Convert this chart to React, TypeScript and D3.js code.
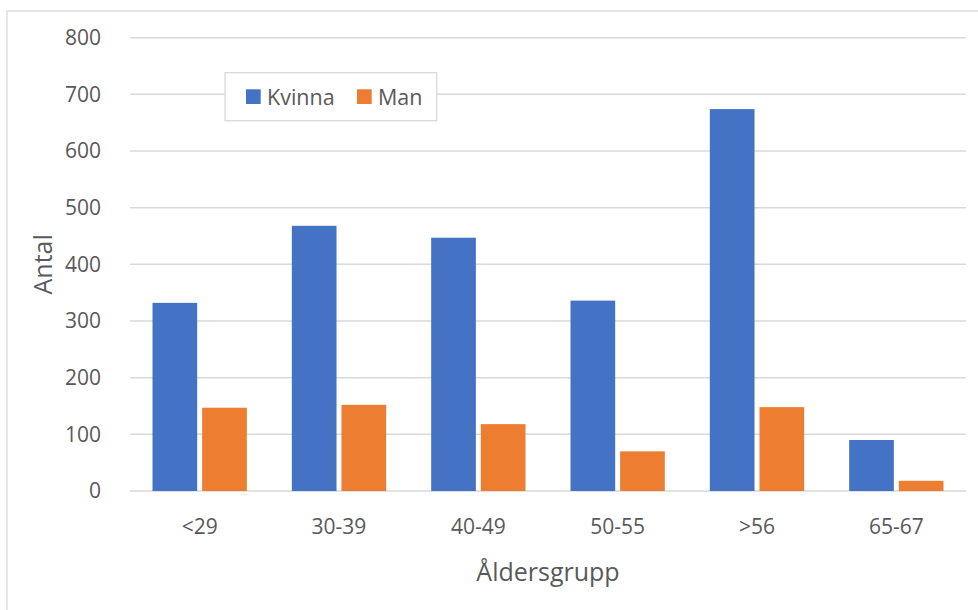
import React from "react";
import * as d3 from "d3";

const categories = ["<29", "30-39", "40-49", "50-55", ">56", "65-67"];
const seriesNames = ["Kvinna", "Man"];
const kvinna = [332, 468, 447, 336, 674, 90];
const man = [147, 152, 118, 70, 148, 18];
const yTicks = [0, 100, 200, 300, 400, 500, 600, 700, 800];
const colors = ["#4472C4", "#ED7D31"];

const W = 978;
const H = 610;
const left = 130;
const right = 966;
const top = 37.7;
const bottom = 491;
const font = "'Open Sans', 'Noto Sans', sans-serif";
const textColor = "#595959";

export default function App() {
  const x0 = d3
    .scaleBand<string>()
    .domain(categories)
    .range([left, right])
    .paddingInner(0.323)
    .paddingOuter(0.1615);
  const x1 = d3
    .scaleBand<string>()
    .domain(seriesNames)
    .range([0, x0.bandwidth()])
    .paddingInner(0.1);
  const y = d3.scaleLinear().domain([0, 800]).range([bottom, top]);
  const data = [kvinna, man];

  return (
    <svg
      width={W}
      height={H}
      style={{ position: "absolute", left: 0, top: 0, background: "#fff" }}
    >
      <rect x={7} y={11} width={W} height={H} fill="#fff" stroke="#d9d9d9" strokeWidth={1.3} />
      {yTicks.map((t) => (
        <g key={t}>
          <line x1={left} x2={right} y1={y(t)} y2={y(t)} stroke="#d9d9d9" strokeWidth={1.5} />
          <text
            x={101}
            y={y(t)}
            dy="0.35em"
            textAnchor="end"
            fontFamily={font}
            fontSize={21}
            fill={textColor}
          >
            {t}
          </text>
        </g>
      ))}
      {categories.map((c, i) => (
        <g key={c}>
          {data.map((vals, s) => (
            <rect
              key={s}
              x={(x0(c) as number) + (x1(seriesNames[s]) as number)}
              y={y(vals[i])}
              width={x1.bandwidth()}
              height={bottom - y(vals[i])}
              fill={colors[s]}
            />
          ))}
          <text
            x={(x0(c) as number) + x0.bandwidth() / 2}
            y={527}
            dy="0.35em"
            textAnchor="middle"
            fontFamily={font}
            fontSize={21}
            fill={textColor}
          >
            {c}
          </text>
        </g>
      ))}
      <text
        x={(left + right) / 2}
        y={572}
        dy="0.35em"
        textAnchor="middle"
        fontFamily={font}
        fontSize={25}
        fill={textColor}
      >
        Åldersgrupp
      </text>
      <text
        transform={`translate(43, ${(top + bottom) / 2}) rotate(-90)`}
        dy="0.35em"
        textAnchor="middle"
        fontFamily={font}
        fontSize={25}
        fill={textColor}
      >
        Antal
      </text>
      <g>
        <rect x={225} y={72.7} width={211.7} height={48} fill="#fff" stroke="#d9d9d9" strokeWidth={1.3} />
        <rect x={246} y={89.3} width={14.7} height={14.7} fill={colors[0]} />
        <text x={267} y={97} dy="0.35em" fontFamily={font} fontSize={21.5} fill={textColor}>
          {seriesNames[0]}
        </text>
        <rect x={357} y={89.3} width={14.7} height={14.7} fill={colors[1]} />
        <text x={378} y={97} dy="0.35em" fontFamily={font} fontSize={21.5} fill={textColor}>
          {seriesNames[1]}
        </text>
      </g>
    </svg>
  );
}
